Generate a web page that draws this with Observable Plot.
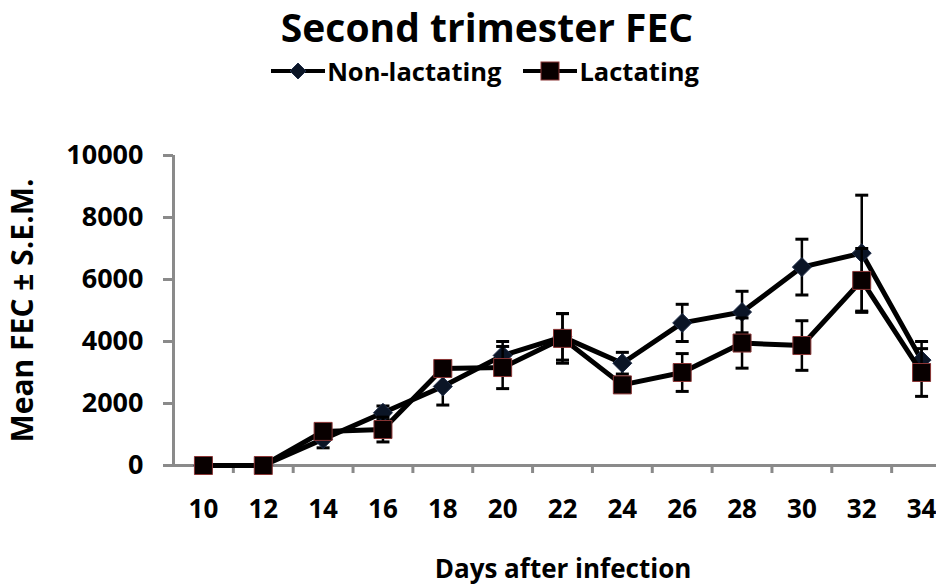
<!DOCTYPE html>
<html><head><meta charset="utf-8">
<script src="https://cdn.jsdelivr.net/npm/d3@7"></script>
<script src="https://cdn.jsdelivr.net/npm/@observablehq/plot@0.6"></script>
<style>
body{margin:0;background:#fff;font-family:"Open Sans",sans-serif;}
#wrap{width:936px;height:586px;overflow:hidden;position:relative;background:#fff}
#title{position:absolute;left:0;width:974px;top:7px;text-align:center;font-weight:bold;font-size:39px;line-height:39px;color:#000}
#legend{position:absolute;left:0;width:970px;top:57px;text-align:center;font-weight:bold;font-size:25.5px;line-height:28px;color:#000;white-space:nowrap}
#legend span.item{display:inline-flex;align-items:center;margin:0 11px}
#legend svg{margin-right:2px}
#chart{position:absolute;left:0;top:95px}
</style></head>
<body>
<div id="wrap">
  <div id="title">Second trimester FEC</div>
  <div id="legend"></div>
  <div id="chart"></div>
</div>
<script>
// ---- data ----
const days = [10, 12, 14, 16, 18, 20, 22, 24, 26, 28, 30, 32, 34];
const nonLactating    = [0, 0, 850, 1700, 2550, 3550, 4150, 3300, 4600, 4950, 6400, 6850, 3400];
const nonLactatingSem = [0, 0, 280, 220, 600, 450, 750, 350, 600, 670, 900, 1870, 600];
const lactating       = [0, 0, 1100, 1160, 3130, 3160, 4100, 2600, 3000, 3950, 3870, 5970, 3000];
const lactatingSem    = [0, 0, 200, 400, 150, 680, 800, 150, 610, 810, 800, 1030, 770];
const yTicks = [0, 2000, 4000, 6000, 8000, 10000];
const xTickMarks = [11, 13, 15, 17, 19, 21, 23, 25, 27, 29, 31, 33, 35];
const seriesNames = ["Non-lactating", "Lactating"];

const nl = days.map((d, i) => ({day: d, value: nonLactating[i], sem: nonLactatingSem[i], series: seriesNames[0]}));
const la = days.map((d, i) => ({day: d, value: lactating[i], sem: lactatingSem[i], series: seriesNames[1]}));

const axisGray = "#8a8a8a";
const diamond = {draw(ctx, size) { const r = Math.sqrt(size / Math.PI); ctx.moveTo(0, -r); ctx.lineTo(r, 0); ctx.lineTo(0, r); ctx.lineTo(-r, 0); ctx.closePath(); }};
const square = {draw(ctx, size) { const r = Math.sqrt(size / Math.PI); ctx.rect(-r, -r, 2 * r, 2 * r); }};
const cap = {draw(ctx, size) { const r = Math.sqrt(size / Math.PI); ctx.moveTo(-r, 0); ctx.lineTo(r, 0); }};

function seriesMarks(rows, symbol, r, fill, stroke) {
  const eb = rows.filter(d => d.sem > 0);
  return [
    Plot.line(rows, {x: "day", y: "value", stroke: "#000", strokeWidth: 5, strokeLinejoin: "round"}),
    Plot.ruleX(eb, {x: "day", y1: d => d.value - d.sem, y2: d => d.value + d.sem, stroke: "#000", strokeWidth: 2.5}),
    Plot.dot(eb, {x: "day", y: d => d.value - d.sem, symbol: cap, r: 6.5, stroke: "#000", strokeWidth: 3}),
    Plot.dot(eb, {x: "day", y: d => d.value + d.sem, symbol: cap, r: 6.5, stroke: "#000", strokeWidth: 3}),
    Plot.dot(rows, {x: "day", y: "value", symbol, r, fill, stroke, strokeWidth: 1})
  ];
}

const chart = Plot.plot({
  width: 936, height: 491,
  marginLeft: 173, marginRight: 0, marginTop: 60, marginBottom: 121,
  x: {domain: [9, 35], range: [173, 951]},
  y: {domain: [0, 10000]},
  style: {fontFamily: "'Open Sans', sans-serif", fontWeight: "bold", color: "#000", background: "transparent"},
  marks: [
    Plot.axisY({ticks: yTicks, tickSize: 10, tickPadding: 20, stroke: axisGray, strokeWidth: 3, fontSize: 27, tickFormat: d => String(d), label: null}),
    Plot.axisX({ticks: xTickMarks, tickSize: 8, stroke: axisGray, strokeWidth: 3, tickFormat: () => "", label: null}),
    Plot.axisX({ticks: days, tickSize: 0, tickPadding: 34, fontSize: 26, tickFormat: d => String(d), label: null}),
    Plot.ruleY([0], {stroke: axisGray, strokeWidth: 3}),
    Plot.ruleX([9], {stroke: axisGray, strokeWidth: 3}),
    ...seriesMarks(nl, diamond, 9.5, "#0b1526", "#1e2c48"),
    ...seriesMarks(la, square, 9, "#080000", "#8a3535"),
    Plot.text(["Mean FEC ± S.E.M."], {frameAnchor: "left", textAnchor: "middle", rotate: -90, dx: -150, fontSize: 30, fontWeight: "bold"}),
    Plot.text(["Days after infection"], {frameAnchor: "bottom", textAnchor: "middle", lineAnchor: "middle", dx: 8, dy: 104, fontSize: 26, fontWeight: "bold"})
  ]
});
document.getElementById("chart").appendChild(chart);

// ---- legend ----
const legend = document.getElementById("legend");
const swatches = [
  `<svg width="54" height="24"><line x1="0" y1="12" x2="54" y2="12" stroke="#000" stroke-width="4"/><path d="M27,4L35,12L27,20L19,12Z" fill="#0b1526" stroke="#1e2c48"/></svg>`,
  `<svg width="54" height="24"><line x1="0" y1="12" x2="54" y2="12" stroke="#000" stroke-width="4"/><rect x="18" y="3" width="18" height="18" fill="#080000" stroke="#8a3535"/></svg>`
];
seriesNames.forEach((name, i) => {
  const s = document.createElement("span");
  s.className = "item";
  s.innerHTML = swatches[i] + `<span>${name}</span>`;
  legend.appendChild(s);
});
</script>
</body></html>
